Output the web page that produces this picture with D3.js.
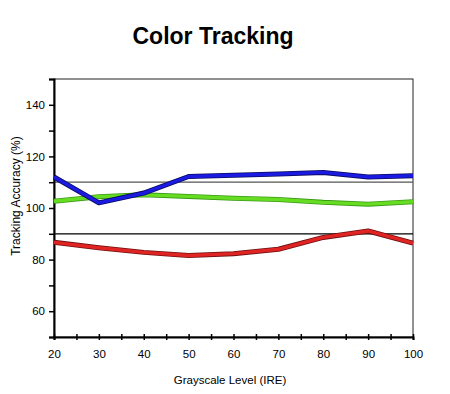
<!DOCTYPE html>
<html>
<head>
<meta charset="utf-8">
<script src="https://cdn.jsdelivr.net/npm/d3@7"></script>
<style>
  body { margin: 0; background: #fff; }
  svg { display: block; font-family: "Liberation Sans", Arial, sans-serif; }
</style>
</head>
<body>
<svg id="chart" width="450" height="394"></svg>
<script>
const levels = [20, 30, 40, 50, 60, 70, 80, 90, 100];
const blueValues = [112, 102, 105.8, 112.2, 112.7, 113.2, 113.8, 112, 112.5];
const greenValues = [102.6, 104.4, 105.1, 104.5, 103.8, 103.3, 102.2, 101.5, 102.4];
const redValues = [86.7, 84.6, 82.8, 81.6, 82.3, 84, 88.6, 91.1, 86.4];
const refLines = [110, 90];
const yTicks = [60, 80, 100, 120, 140];

const svg = d3.select("#chart");
const margin = { top: 79, right: 37, bottom: 57, left: 54 };
const width = 450, height = 394;
const innerWidth = width - margin.left - margin.right;
const innerHeight = height - margin.top - margin.bottom;

const x = d3.scaleLinear().domain([20, 100]).range([0, innerWidth]);
const y = d3.scaleLinear().domain([50, 150]).range([innerHeight, 0]);

const g = svg.append("g").attr("transform", `translate(${margin.left},${margin.top})`);

// Title
svg.append("text")
    .attr("x", 213).attr("y", 44)
    .attr("text-anchor", "middle")
    .style("font-size", "23px").style("font-weight", "bold")
    .text("Color Tracking");

// Frame
g.append("rect")
    .attr("width", innerWidth).attr("height", innerHeight)
    .attr("fill", "none").attr("stroke", "#222").attr("stroke-width", 1);

// Reference lines
g.selectAll(".ref")
    .data(refLines)
    .join("line")
    .attr("x1", 0).attr("x2", innerWidth)
    .attr("y1", d => y(d)).attr("y2", d => y(d))
    .attr("stroke", (d, i) => i === 0 ? "#555" : "#000")
    .attr("stroke-width", 1.3);

// Y axis
const yAxis = g.append("g")
    .call(d3.axisLeft(y).tickValues(d3.range(50, 151, 10)).tickSize(5).tickPadding(4)
        .tickFormat(d => yTicks.includes(d) ? d : ""))
    .attr("font-family", null).attr("font-size", null);
yAxis.select(".domain").attr("stroke-width", 2);
yAxis.selectAll(".tick line").attr("stroke-width", 1.5);
yAxis.selectAll(".tick text").filter(d => !yTicks.includes(d)).remove();
yAxis.selectAll(".tick text").style("font-size", "11.5px");

// X axis
const xAxis = g.append("g")
    .attr("transform", `translate(0,${innerHeight})`)
    .call(d3.axisBottom(x).tickValues(d3.range(20, 101, 5)).tickSize(3).tickPadding(10)
        .tickFormat(d => d % 10 === 0 ? d : ""))
    .attr("font-family", null).attr("font-size", null);
xAxis.select(".domain").attr("stroke-width", 2);
xAxis.selectAll(".tick line").attr("y1", -3).attr("stroke-width", 1.5);
xAxis.selectAll(".tick text").filter(d => d % 10 !== 0).remove();
xAxis.selectAll(".tick text").style("font-size", "11.5px");

// Axis titles
svg.append("text")
    .attr("transform", `translate(20,${margin.top + innerHeight / 2 - 12}) rotate(-90)`)
    .attr("text-anchor", "middle")
    .style("font-size", "12px")
    .text("Tracking Accuracy (%)");

svg.append("text")
    .attr("x", 230).attr("y", 384)
    .attr("text-anchor", "middle")
    .style("font-size", "11.5px")
    .text("Grayscale Level (IRE)");

// Series
const series = [
    { values: greenValues, color: "#66dd22", edge: "#3a9a14" },
    { values: redValues, color: "#e02424", edge: "#701010" },
    { values: blueValues, color: "#1a1ae0", edge: "#0a0a60" }
];
const line = d3.line().x((d, i) => x(levels[i])).y(d => y(d));

series.forEach(s => {
    g.append("path").datum(s.values)
        .attr("d", line).attr("fill", "none")
        .attr("stroke", s.edge).attr("stroke-width", 5).attr("stroke-linejoin", "round");
    g.append("path").datum(s.values)
        .attr("d", line).attr("fill", "none")
        .attr("stroke", s.color).attr("stroke-width", 3.4).attr("stroke-linejoin", "round");
});
</script>
</body>
</html>
